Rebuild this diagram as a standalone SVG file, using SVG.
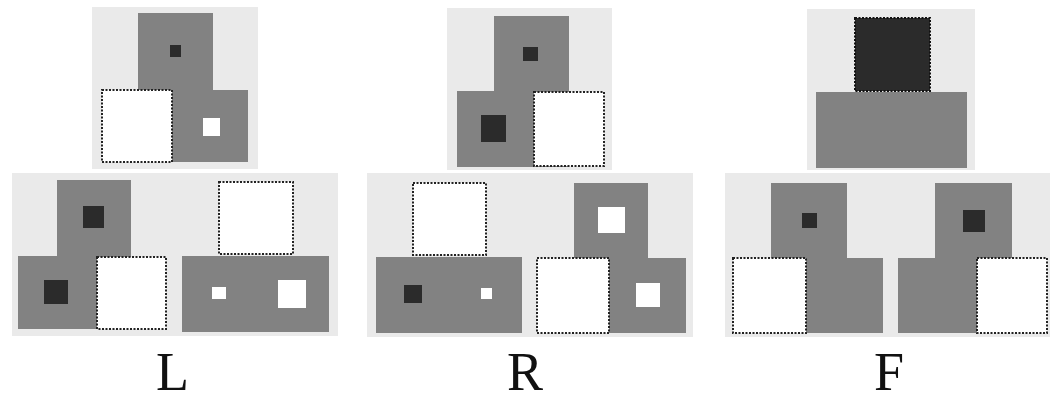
<svg xmlns="http://www.w3.org/2000/svg" width="1050" height="400" viewBox="0 0 1050 400">
<defs>
<style>
.bg{fill:#eaeaea}
.g{fill:#828282}
.w{fill:#ffffff;stroke:#222;stroke-width:2;stroke-dasharray:2 1.5}
.ws{fill:#ffffff}
.d{fill:#2b2b2b}
.db{fill:#2b2b2b;stroke:#111;stroke-width:2;stroke-dasharray:2 1.5}
.lbl{font-family:"Liberation Serif","Times New Roman",serif;font-size:54px;fill:#111}
</style>
</defs>
<rect width="1050" height="400" fill="#ffffff"/>
<g id="L-top">
<rect class="bg" x="92" y="7" width="166" height="162"/>
<rect class="g" x="138" y="13" width="75" height="149"/>
<rect class="g" x="172" y="90" width="76" height="72"/>
<rect class="w" x="102" y="90" width="70" height="72"/>
<rect class="d" x="170" y="45" width="11" height="12"/>
<rect class="ws" x="203" y="118" width="17" height="18"/>
</g>
<g id="L-bottom">
<rect class="bg" x="12" y="173" width="326" height="163"/>
<rect class="g" x="57" y="180" width="74" height="149"/>
<rect class="g" x="18" y="256" width="79" height="73"/>
<rect class="w" x="97" y="257" width="69" height="72"/>
<rect class="d" x="83" y="206" width="21" height="22"/>
<rect class="d" x="44" y="280" width="24" height="24"/>
<rect class="w" x="219" y="182" width="74" height="72"/>
<rect class="g" x="182" y="256" width="147" height="76"/>
<rect class="ws" x="212" y="287" width="14" height="12"/>
<rect class="ws" x="278" y="280" width="28" height="28"/>
</g>
<g id="R-top">
<rect class="bg" x="447" y="8" width="165" height="162"/>
<rect class="g" x="494" y="16" width="75" height="151"/>
<rect class="g" x="457" y="91" width="77" height="76"/>
<rect class="w" x="534" y="92" width="70" height="74"/>
<rect class="d" x="523" y="47" width="15" height="14"/>
<rect class="d" x="481" y="115" width="25" height="27"/>
</g>
<g id="R-bottom">
<rect class="bg" x="367" y="173" width="326" height="164"/>
<rect class="w" x="413" y="183" width="73" height="72"/>
<rect class="g" x="376" y="257" width="146" height="76"/>
<rect class="d" x="404" y="285" width="18" height="18"/>
<rect class="ws" x="481" y="288" width="11" height="11"/>
<rect class="g" x="574" y="183" width="74" height="150"/>
<rect class="g" x="608" y="258" width="78" height="75"/>
<rect class="w" x="537" y="258" width="72" height="75"/>
<rect class="ws" x="598" y="207" width="27" height="26"/>
<rect class="ws" x="636" y="283" width="24" height="24"/>
</g>
<g id="F-top">
<rect class="bg" x="807" y="9" width="168" height="161"/>
<rect class="db" x="855" y="18" width="75" height="73"/>
<rect class="g" x="816" y="92" width="151" height="76"/>
</g>
<g id="F-bottom">
<rect class="bg" x="725" y="173" width="325" height="164"/>
<rect class="g" x="771" y="183" width="76" height="150"/>
<rect class="g" x="806" y="258" width="77" height="75"/>
<rect class="w" x="733" y="258" width="73" height="75"/>
<rect class="d" x="802" y="213" width="15" height="15"/>
<rect class="g" x="935" y="183" width="77" height="150"/>
<rect class="g" x="898" y="258" width="79" height="75"/>
<rect class="w" x="977" y="258" width="70" height="75"/>
<rect class="d" x="963" y="210" width="22" height="22"/>
</g>
<g id="labels">
<text class="lbl" x="156" y="390">L</text>
<text class="lbl" x="507" y="390">R</text>
<text class="lbl" x="874" y="390">F</text>
</g>
</svg>
